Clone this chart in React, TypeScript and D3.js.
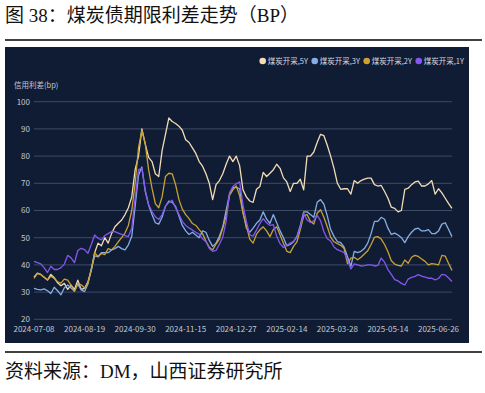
import React, { useEffect } from "react";
import * as d3 from "d3";

// 煤炭开采 spreads, sampled every 2nd trading day from 2024-07-08
const series5Y = [
  35.5, 37, 36.5, 35.5, 34.4, 36.5, 35.3, 33.4, 32.3, 33.2, 31, 32.6, 31, 34.4, 31, 31.4, 33.8, 38, 44.5, 48,
  47, 50, 48, 51.5, 54, 55.3, 56.5, 58.5, 61, 65, 75, 80, 90, 84.5, 79.5, 78, 73.5, 72.5, 82, 88,
  94, 92.7, 92, 91, 89.5, 86, 85, 83, 81, 78, 76.3, 73.5, 70, 64, 69.5, 71, 73.5, 77, 80, 78,
  80, 76.5, 67.6, 65, 63.5, 63, 67.8, 68.8, 74, 72.5, 73.7, 75, 77, 75.5, 72, 70.5, 67, 70, 70, 71.5,
  67.6, 80, 80, 81.5, 85, 88, 87.5, 84, 80, 75.5, 70, 67.8, 68, 68, 66, 71, 70, 71, 71.5, 71.9,
  71.9, 69.5, 69, 69.2, 67, 64.5, 61.2, 60.8, 59.5, 60, 67.8, 68.2, 69.5, 70.5, 70.8, 69, 69, 69.8, 71, 66,
  68, 66.5, 64.5, 62.5, 60.8,
];
const series3Y = [
  31.4, 31, 30.8, 31.2, 30.5, 29.5, 31.8, 30.5, 29, 31.6, 32.6, 31.5, 30.3, 33, 30.8, 30.2, 33, 38.5, 43.3, 43,
  44.5, 44.5, 44.5, 45.5, 46, 46.8, 46, 45.5, 47.4, 50.5, 61.5, 73, 76, 67, 62, 58.5, 55.5, 55, 57.5, 61.5,
  63.5, 63, 61.5, 58, 54.5, 52.5, 51.2, 52, 51, 50, 52.5, 52, 49, 46.8, 48, 50.5, 54, 60, 66, 68.5,
  68.5, 68, 59.5, 53.5, 52, 53.5, 55.3, 56.5, 59.5, 56.8, 55.3, 58.5, 55.5, 52.5, 50, 47, 47.5, 48.5, 50.5, 54.5,
  59.5, 59.5, 58.5, 57.5, 63, 64, 62.3, 58, 53, 50.5, 48.6, 48.2, 46.5, 43, 39.5, 45, 44.5, 45, 46, 48,
  51.5, 56, 56, 57.5, 56.8, 53.5, 51.2, 51.7, 51, 50, 48.2, 50.4, 52, 53.2, 53.5, 52.5, 52.5, 53, 51.5, 51.5,
  52.5, 55, 55.5, 53, 50.4,
];
const series2Y = [
  35, 36.8, 36.5, 35.5, 34.5, 35.8, 35, 33.8, 33.3, 34.8, 34.4, 32.5, 30.3, 33.2, 32.7, 31.5, 33.2, 38.5, 44.5, 43,
  44.2, 43.8, 46, 45.5, 46.8, 48.5, 50, 51.7, 54.5, 60, 70, 83, 89.5, 84.5, 75, 68.2, 62.5, 61, 65, 72.5,
  73.7, 73.5, 69.5, 64, 60.5, 58.5, 57, 55.2, 54.5, 53, 51.5, 48.8, 46.5, 45.5, 47.6, 49.5, 53.5, 58, 65.5, 67.6,
  69, 65.5, 59, 54.5, 49.5, 48, 51.3, 52.9, 54, 52.5, 50.4, 53, 54, 51, 48, 45, 44.5, 46.8, 48.5, 53,
  58, 58.5, 56, 55, 59, 60.3, 57.5, 54, 50.2, 48.5, 47.8, 47.2, 46, 40.5, 42.5, 42.8, 41.9, 42.8, 44, 45.2,
  47.5, 50.2, 50.4, 49.5, 47.5, 44.8, 41.5, 40.3, 39.8, 39.6, 41.8, 40.6, 42.8, 43.5, 43.1, 42.2, 41.3, 40, 40.5, 40.3,
  40, 43.5, 43.2, 40.5, 38,
];
const series1Y = [
  41.3, 40.8, 40.4, 39, 37.2, 39.5, 38.3, 38.3, 39, 40.3, 43.5, 42.6, 40.8, 45.3, 46.1, 45.6, 44.3, 47.5, 51, 49.8,
  49.2, 50.8, 51.5, 52.3, 52.2, 51.7, 51.2, 50.8, 50.4, 53.5, 64.5, 75, 75.5, 67.6, 62.2, 59.6, 57.7, 56.7, 58.4, 61.6,
  62.9, 63.8, 61, 58.5, 56, 54.5, 53.6, 52.8, 52, 51.3, 49.6, 48.5, 46, 45, 45.3, 47.6, 50.2, 56, 66.5, 68.8,
  69.8, 70.5, 62, 56, 51, 50.6, 52.8, 55.2, 57, 55.5, 54.5, 54.8, 50.5, 47.8, 46.4, 47.2, 48, 48.7, 50.2, 54,
  59, 56.5, 55.6, 56.2, 58.2, 56.3, 52.2, 49.6, 48.8, 46.6, 45.6, 45.1, 44.5, 42, 38.5, 40.4, 40, 39.6, 39.7, 40,
  40, 39.6, 39.8, 42.5, 41, 38.3, 36.5, 34.6, 34.1, 33.2, 32.6, 34.8, 35.4, 35.8, 36.4, 35.9, 35.5, 35.1, 35.1, 34.5,
  35, 36.5, 36.3, 35.2, 33.9,
];

const seriesNames = ["煤炭开采,5Y", "煤炭开采,3Y", "煤炭开采,2Y", "煤炭开采,1Y"];
const seriesColors = ["#f3dcb6", "#86aee6", "#c9a233", "#8457f0"];
const tickLabels = [
  "2024-07-08", "2024-08-19", "2024-09-30", "2024-11-15", "2024-12-27",
  "2025-02-14", "2025-03-28", "2025-05-14", "2025-06-26",
];
const tickEvery = 15;
const yTicks = [20, 30, 40, 50, 60, 70, 80, 90, 100];

const W = 485;
const H = 393;
const sans = "'Noto Sans CJK SC', 'Noto Sans', sans-serif";
const serif = "'Liberation Serif', 'Noto Sans CJK SC', serif";

export default function App() {
  useEffect(() => {
    document.body.style.margin = "0";
  }, []);

  const all = [series5Y, series3Y, series2Y, series1Y];
  const n = series5Y.length;
  const x = d3.scaleLinear().domain([0, n - 1]).range([34, 452]);
  const y = d3.scaleLinear().domain([20, 100]).range([319.3, 101.7]);
  const line = d3
    .line<number>()
    .x((_, i) => x(i))
    .y((d) => y(d));

  return (
    <svg width={W} height={H} style={{ display: "block", background: "#fff" }}>
      <text x={5} y={22} fontFamily={serif} fontSize={19} fill="#111">
        图 38：煤炭债期限利差走势（BP）
      </text>
      <line x1={5} x2={482} y1={40} y2={40} stroke="#000" strokeWidth={1.3} />

      <rect x={5} y={47} width={464} height={296} fill="#101c34" />

      {/* legend */}
      <g fontFamily={sans} fontSize={7.5} fill="#d4d8e0">
        {seriesNames.map((name, i) => (
          <g key={name} transform={`translate(${262.7 + i * 52},61)`}>
            <circle r={3.3} fill={seriesColors[i]} />
            <text x={5} dy="0.35em">{name}</text>
          </g>
        ))}
      </g>

      <text x={14} y={88} fontFamily={sans} fontSize={7.5} fill="#c3c8d2">
        信用利差(bp)
      </text>

      {/* grid + y ticks */}
      <g fontFamily={sans} fontSize={8} fill="#c3c8d2">
        {yTicks.map((t) => (
          <g key={t}>
            <line x1={34} x2={452} y1={y(t)} y2={y(t)} stroke="#3e4b66" strokeWidth={1} />
            <text x={30} y={y(t)} dy="0.35em" textAnchor="end">
              {t}
            </text>
          </g>
        ))}
      </g>

      {/* x ticks */}
      <g fontFamily={sans} fontSize={8} fill="#c3c8d2">
        {tickLabels.map((t, i) => (
          <text key={t} x={x(i * tickEvery)} y={329.5} dy="0.35em" textAnchor="middle">
            {t}
          </text>
        ))}
      </g>

      {all.map((s, i) => (
        <path
          key={i}
          d={line(s) ?? ""}
          fill="none"
          stroke={seriesColors[i]}
          strokeWidth={1.3}
          strokeLinejoin="round"
        />
      ))}

      <line x1={5} x2={482} y1={352} y2={352} stroke="#000" strokeWidth={1.3} />
      <text x={5} y={378} fontFamily={serif} fontSize={19} fill="#111">
        资料来源：DM，山西证券研究所
      </text>
    </svg>
  );
}
